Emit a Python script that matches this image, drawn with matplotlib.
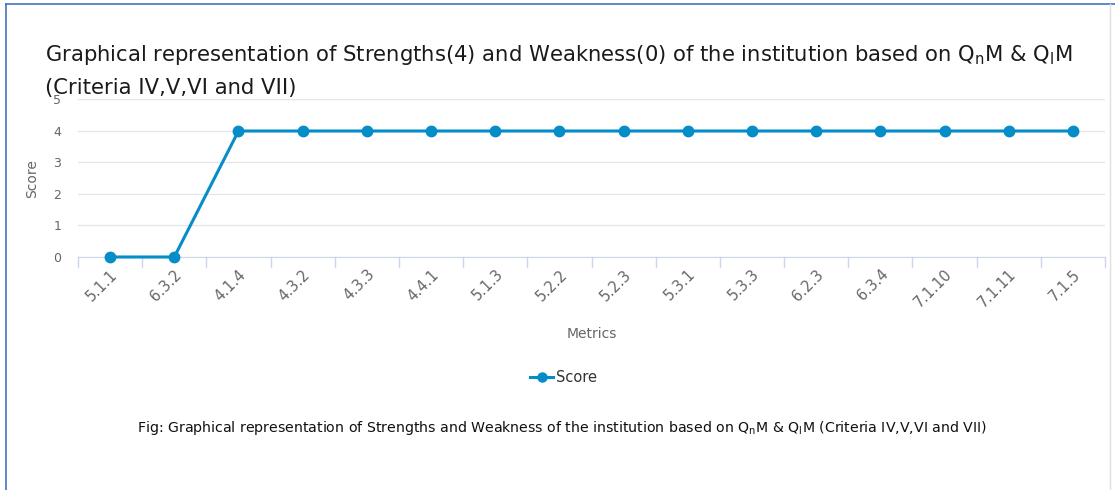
import matplotlib
matplotlib.use('Agg')
import matplotlib.pyplot as plt
from matplotlib.lines import Line2D

metrics = ['5.1.1', '6.3.2', '4.1.4', '4.3.2', '4.3.3', '4.4.1', '5.1.3', '5.2.2',
           '5.2.3', '5.3.1', '5.3.3', '6.2.3', '6.3.4', '7.1.10', '7.1.11', '7.1.5']
scores = [0, 0, 4, 4, 4, 4, 4, 4, 4, 4, 4, 4, 4, 4, 4, 4]
yticks = [0, 1, 2, 3, 4, 5]

W, H = 1115, 490
fig = plt.figure(figsize=(W/100, H/100), dpi=100)
blue = '#058DC7'

# page frame
fig.add_artist(Line2D([6/W, 6/W], [0, 1-4/H], color='#4472c4', lw=1.2))
fig.add_artist(Line2D([6/W, 1], [1-4/H, 1-4/H], color='#4472c4', lw=1.2))
fig.add_artist(Line2D([1110/W, 1110/W], [0, 1-4/H], color='#e0e0e0', lw=1.0))

ax = fig.add_axes([78/W, 1-257/H, (1105-78)/W, (257-99.5)/H])
x = list(range(len(metrics)))
ax.plot(x, scores, color=blue, lw=2.2, marker='o', ms=7.5, zorder=3, clip_on=False)
ax.set_xlim(-0.5, len(metrics)-0.5)
ax.set_ylim(0, 5)
ax.set_yticks(yticks)
ax.set_yticklabels([str(v) for v in yticks], color='#666666', fontsize=9)
ax.grid(axis='y', color='#e6e6e6', lw=1)
ax.set_axisbelow(True)
for s in ['top', 'right', 'left']:
    ax.spines[s].set_visible(False)
ax.spines['bottom'].set_color('#ccd6eb')
ax.tick_params(axis='y', length=0, pad=12)
ax.set_xticks(x)
ax.set_xticklabels(metrics, rotation=45, ha='right', rotation_mode='anchor',
                   color='#666666', fontsize=10.5)
ax.tick_params(axis='x', length=0, pad=7)
for b in [i - 0.5 for i in range(len(metrics)+1)]:
    ax.plot([b, b], [0, -0.33], color='#ccd6eb', lw=1, clip_on=False)
ax.set_xlabel('Metrics', color='#666666', fontsize=10, labelpad=12)
ax.set_ylabel('Score', color='#666666', fontsize=10, labelpad=10)

fig.text(45/W, 1-55/H,
         'Graphical representation of Strengths(4) and Weakness(0) of the institution based on Q$_\\mathrm{n}$M & Q$_\\mathrm{l}$M',
         fontsize=15.2, va='center', ha='left', color='#1a1a1a')
fig.text(45/W, 1-88/H, '(Criteria IV,V,VI and VII)',
         fontsize=15.2, va='center', ha='left', color='#1a1a1a')

# legend
fig.add_artist(Line2D([530/W, 553/W], [1-377/H, 1-377/H], color=blue, lw=2.2))
fig.add_artist(Line2D([541.5/W], [1-377/H], color=blue, marker='o', ms=6.5))
fig.text(556/W, 1-377/H, 'Score', fontsize=10.5, va='center', ha='left',
         color='#333333')

fig.text(562/W, 1-428/H,
         'Fig: Graphical representation of Strengths and Weakness of the institution based on Q$_\\mathrm{n}$M & Q$_\\mathrm{l}$M (Criteria IV,V,VI and VII)',
         fontsize=10.2, va='center', ha='center', color='#111111', fontweight='medium')

fig.savefig('out.png', dpi=100)
